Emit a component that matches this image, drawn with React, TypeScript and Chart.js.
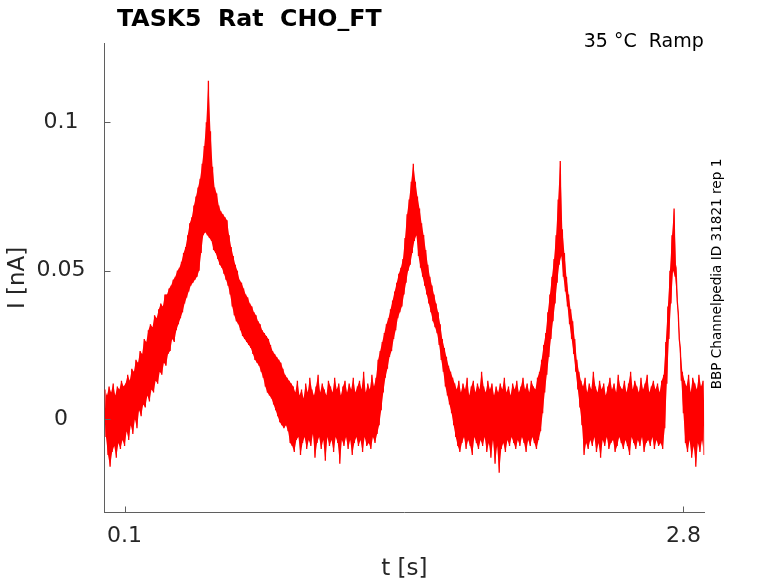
import { useEffect, useRef } from 'react';
import Chart from 'chart.js/auto';

// Recorded current trace, read off the figure as upper / lower noise envelope (pA),
// one pair per 10 ms sample starting at 5 ms.
const TRACE_START_S = 0.005;
const SAMPLE_STEP_S = 0.01;

const HI_PA = [
  10, 8, 11, 9, 12, 8, 11, 10, 13, 11,
  12, 15, 13, 17, 16, 20, 19, 23, 22, 27,
  26, 30, 32, 31, 35, 34, 37, 39, 38, 42,
  42, 44, 45, 47, 48, 50, 51, 53, 56, 58,
  62, 66, 68, 72, 75, 78, 81, 86, 92, 100,
  114, 97, 85, 78, 76, 72, 70, 69, 68, 67,
  62, 58, 55, 52, 50, 47, 46, 44, 42, 41,
  39, 38, 36, 35, 33, 32, 30, 29, 28, 27,
  25, 23, 22, 21, 20, 19, 17, 15, 14, 13,
  12, 11, 9, 13, 8, 10, 7, 12, 9, 14,
  10, 8, 11, 15, 9, 12, 10, 8, 13, 11,
  9, 14, 10, 12, 8, 11, 13, 9, 12, 10,
  14, 9, 11, 13, 10, 16, 9, 12, 10, 15,
  11, 14, 20, 23, 26, 29, 32, 34, 37, 40,
  43, 46, 49, 51, 54, 61, 69, 74, 80, 86,
  80, 75, 71, 66, 62, 57, 52, 48, 45, 42,
  39, 36, 32, 27, 24, 21, 18, 16, 14, 12,
  10, 13, 9, 12, 10, 14, 8, 11, 13, 9,
  12, 10, 16, 11, 9, 13, 10, 12, 8, 11,
  9, 12, 10, 14, 9, 11, 8, 12, 10, 13,
  9, 11, 14, 10, 12, 9, 13, 11, 10, 14,
  16, 20, 25, 29, 36, 42, 48, 54, 62, 74,
  87, 64, 56, 48, 42, 37, 33, 27, 20, 16,
  13, 11, 14, 9, 12, 10, 16, 11, 9, 13,
  10, 12, 8, 11, 14, 10, 12, 9, 15, 11,
  10, 13, 9, 12, 16, 10, 13, 11, 9, 14,
  10, 12, 15, 9, 11, 13, 10, 12, 9, 13,
  15, 26, 38, 50, 62, 71, 50, 36, 24, 16,
  13, 11, 15, 9, 14, 12, 10, 15, 11, 13,
];

const LO_PA = [
  -6, -12, -16, -11, -9, -13, -8, -10, -7, -9,
  -4, -7, -2, -5, 0, -3, 3, 1, 5, 4,
  8, 6, 10, 9, 13, 12, 16, 15, 19, 18,
  22, 23, 27, 26, 30, 32, 34, 36, 39, 41,
  43, 45, 46, 47, 48, 50, 56, 62, 63, 62,
  61, 60, 57, 56, 54, 52, 51, 49, 47, 45,
  42, 38, 35, 33, 32, 30, 28, 27, 26, 25,
  24, 22, 20, 19, 18, 16, 14, 11, 9, 8,
  7, 5, 3, 1, -1, -2, -3, -2, -4, -8,
  -9, -11, -7, -6, -12, -8, -6, -10, -7, -9,
  -5, -13, -8, -6, -10, -7, -14, -6, -9, -7,
  -11, -6, -8, -15, -7, -9, -6, -10, -7, -12,
  -8, -6, -9, -7, -11, -6, -9, -8, -10, -6,
  -8, -5, -2, 3, 9, 14, 17, 21, 23, 27,
  30, 34, 36, 38, 42, 46, 50, 52, 56, 60,
  62, 55, 51, 48, 45, 42, 39, 36, 33, 31,
  29, 25, 20, 16, 11, 8, 5, 2, -2, -6,
  -9, -11, -8, -6, -10, -7, -9, -12, -6, -8,
  -10, -7, -9, -6, -11, -8, -13, -7, -15, -9,
  -18, -10, -8, -11, -7, -9, -6, -8, -10, -7,
  -9, -6, -8, -11, -7, -9, -6, -8, -10, -7,
  -4, 2, 9, 15, 21, 27, 33, 39, 46, 52,
  55, 48, 43, 38, 32, 27, 22, 16, 10, 4,
  -2, -12, -8, -10, -7, -9, -6, -11, -8, -13,
  -7, -9, -6, -10, -8, -7, -11, -9, -6, -8,
  -10, -7, -9, -12, -6, -8, -10, -7, -9, -6,
  -11, -8, -7, -9, -6, -10, -7, -9, -8, -10,
  -3, 12, 27, 39, 50, 48, 40, 27, 13, 2,
  -8, -11, -7, -13, -9, -16, -8, -11, -7, -12,
];

const X_TICKS = [0.1, 2.8];
const Y_TICKS = [0, 0.05, 0.1];

const TITLE = 'TASK5  Rat  CHO_FT';
const CONDITION = '35 °C  Ramp';
const SOURCE = 'BBP Channelpedia ID 31821 rep 1';

const FONT = '"DejaVu Sans", sans-serif';
const TEXT_COLOR = '#262626';
const AXIS_COLOR = '#5f5f5f';
const TRACE_COLOR = '#ff0000';

// MATLAB-style decorations: inward ticks, title, condition and source note
const decorations = {
  id: 'decorations',
  afterDraw(chart: any) {
    const { ctx, chartArea, scales } = chart;
    ctx.save();
    ctx.strokeStyle = AXIS_COLOR;
    ctx.lineWidth = 1;
    ctx.beginPath();
    X_TICKS.forEach((v) => {
      const px = Math.round(scales.x.getPixelForValue(v)) + 0.5;
      ctx.moveTo(px, chartArea.bottom);
      ctx.lineTo(px, chartArea.bottom - 6);
    });
    Y_TICKS.forEach((v) => {
      const py = Math.round(scales.y.getPixelForValue(v)) + 0.5;
      ctx.moveTo(chartArea.left, py);
      ctx.lineTo(chartArea.left + 6, py);
    });
    ctx.stroke();

    ctx.fillStyle = '#000';
    ctx.textBaseline = 'alphabetic';
    ctx.font = `bold 23.7px ${FONT}`;
    ctx.textAlign = 'left';
    ctx.fillText(TITLE, 117, 26);

    ctx.font = `19px ${FONT}`;
    ctx.textAlign = 'right';
    ctx.fillText(CONDITION, chartArea.right - 0.5, 47);

    ctx.translate(717.5, 274);
    ctx.rotate(-Math.PI / 2);
    ctx.font = `13.6px ${FONT}`;
    ctx.textAlign = 'center';
    ctx.textBaseline = 'middle';
    ctx.fillText(SOURCE, 0, 0);
    ctx.restore();
  },
};

export default function App() {
  const canvasRef = useRef<HTMLCanvasElement | null>(null);
  const chartRef = useRef<Chart | null>(null);

  useEffect(() => {
    if (!canvasRef.current) return;

    const sampleTime = (i: number) => TRACE_START_S + i * SAMPLE_STEP_S;
    const upper = HI_PA.map((v, i) => ({ x: sampleTime(i), y: v / 1000 }));
    const lower = LO_PA.map((v, i) => ({ x: sampleTime(i) + SAMPLE_STEP_S / 2, y: v / 1000 }));
    // zig-zag between the envelopes so the edges read as a noisy trace
    const zigzag = upper.flatMap((p, i) => [p, lower[i]]);

    const tickFont = { family: FONT, size: 22 };
    const titleFont = { family: FONT, size: 23 };

    chartRef.current = new Chart(canvasRef.current, {
      type: 'line',
      data: {
        datasets: [
          {
            data: upper,
            borderWidth: 0,
            borderColor: 'rgba(0,0,0,0)',
            pointRadius: 0,
            fill: false,
          },
          {
            data: lower,
            borderWidth: 0,
            borderColor: 'rgba(0,0,0,0)',
            backgroundColor: TRACE_COLOR,
            pointRadius: 0,
            fill: '-1',
          },
          {
            data: zigzag,
            borderColor: TRACE_COLOR,
            borderWidth: 1.3,
            pointRadius: 0,
            tension: 0,
            fill: false,
          },
        ],
      },
      options: {
        responsive: true,
        maintainAspectRatio: false,
        animation: false,
        events: [],
        layout: { padding: { top: 43.3, right: 73.7, left: 0, bottom: 0 } },
        plugins: {
          legend: { display: false },
          title: { display: false },
          tooltip: { enabled: false },
        },
        scales: {
          x: {
            type: 'linear',
            min: 0.003,
            max: 2.901,
            grid: { display: false },
            border: { display: true, color: AXIS_COLOR, width: 1 },
            afterBuildTicks: (scale: any) => {
              scale.ticks = X_TICKS.map((value) => ({ value }));
            },
            afterFit: (scale: any) => {
              scale.height = 70.5;
            },
            ticks: {
              color: TEXT_COLOR,
              font: tickFont,
              padding: 3,
              maxRotation: 0,
              autoSkip: false,
              callback: (value: any) => String(value),
            },
            title: {
              display: true,
              text: 't [s]',
              color: TEXT_COLOR,
              font: titleFont,
              padding: { top: 0, bottom: 0 },
            },
          },
          y: {
            type: 'linear',
            min: -0.0314,
            max: 0.1266,
            grid: { display: false },
            border: { display: true, color: AXIS_COLOR, width: 1 },
            afterBuildTicks: (scale: any) => {
              scale.ticks = Y_TICKS.map((value) => ({ value }));
            },
            afterFit: (scale: any) => {
              scale.width = 104.5;
            },
            ticks: {
              color: TEXT_COLOR,
              font: tickFont,
              padding: 11,
              crossAlign: 'center',
              autoSkip: false,
              callback: (value: any) => String(value),
            },
            title: {
              display: true,
              text: 'I [nA]',
              color: TEXT_COLOR,
              font: titleFont,
              padding: { top: 4, bottom: 0 },
            },
          },
        },
      },
      plugins: [decorations],
    });

    return () => {
      if (chartRef.current) {
        chartRef.current.destroy();
        chartRef.current = null;
      }
    };
  }, []);

  return (
    <div style={{ position: 'absolute', left: 0, top: 0, width: 778, height: 583, background: '#fff' }}>
      <canvas ref={canvasRef} />
    </div>
  );
}
